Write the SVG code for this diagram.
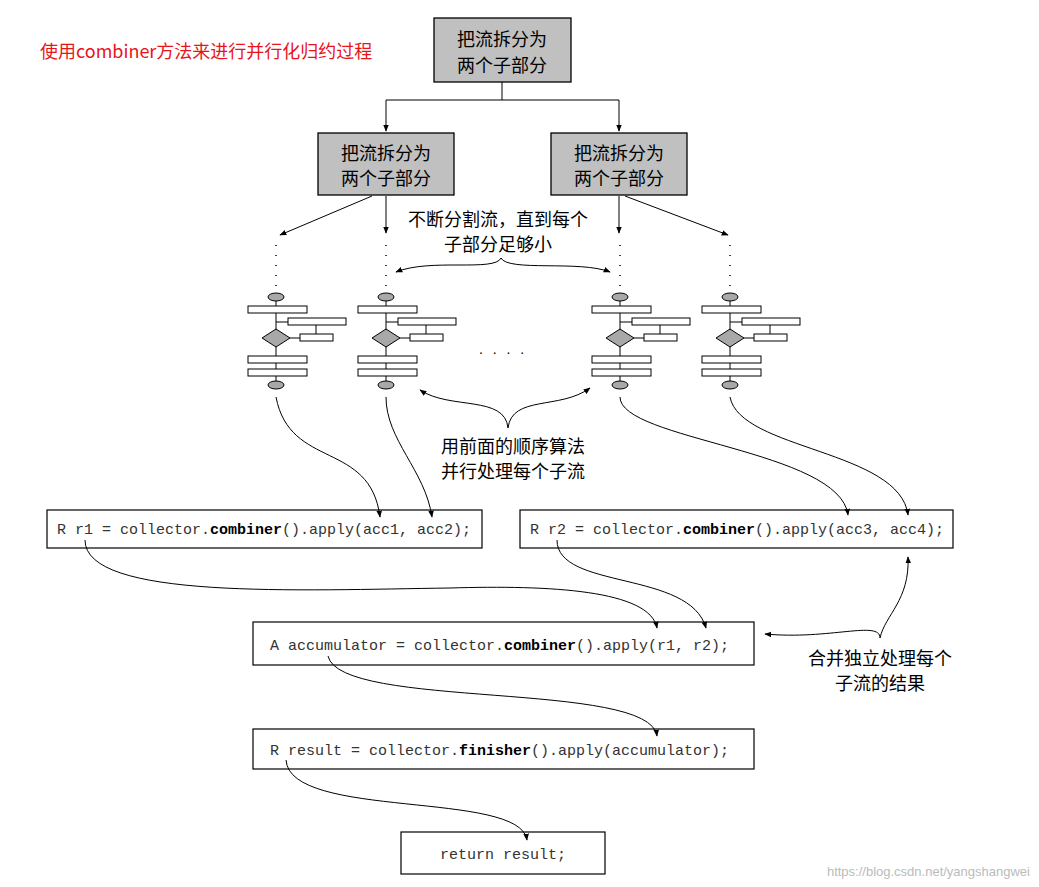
<svg xmlns="http://www.w3.org/2000/svg" width="1039" height="887" viewBox="0 0 1039 887">
<defs>
<style>
.bx{fill:#c0c0c0;stroke:#000;stroke-width:1.3}
.cb{fill:#fff;stroke:#000;stroke-width:1.2}
.t{font-family:"Noto Sans CJK SC",sans-serif;font-size:18px;fill:#000}
.c{font-family:"Liberation Mono",monospace;font-size:15px;fill:#333}
.ln{fill:none;stroke:#000;stroke-width:1}
.w{fill:#fff;stroke:#000;stroke-width:1}
.g{fill:#a8a8a8;stroke:#000;stroke-width:1}
.d{stroke:#000;stroke-width:1.5;stroke-dasharray:1 9;fill:none}
</style>
<marker id="a" viewBox="0 0 10 10" refX="9" refY="5" markerWidth="7" markerHeight="7" orient="auto-start-reverse"><path d="M0,1 L10,5 L0,9 z" fill="#000"/></marker>
<g id="fc">
<line class="ln" x1="0" y1="297" x2="0" y2="385"/>
<line class="ln" x1="0" y1="322" x2="12" y2="322"/>
<line class="ln" x1="14" y1="338" x2="24" y2="338"/>
<line class="ln" x1="40" y1="325" x2="40" y2="334"/>
<ellipse class="g" cx="0" cy="297" rx="8" ry="4"/>
<rect class="w" x="-28" y="306" width="59" height="7"/>
<rect class="w" x="12" y="318" width="58" height="7"/>
<path class="g" d="M0,329 L14,338 L0,347 L-14,338 Z"/>
<rect class="w" x="24" y="334" width="33" height="7"/>
<rect class="w" x="-28" y="356" width="59" height="7"/>
<rect class="w" x="-28" y="369" width="59" height="7"/>
<ellipse class="g" cx="0" cy="385" rx="8" ry="4"/>
</g>
</defs>
<rect width="1039" height="887" fill="#fff"/>
<text x="40" y="58" font-family="Noto Sans CJK SC,sans-serif" font-size="18" fill="#e8141c">使用combiner方法来进行并行化归约过程</text>

<g id="n0"><rect class="bx" x="434" y="18" width="137" height="64"/><text class="t" x="502" y="46" text-anchor="middle" font-size="19">把流拆分为</text><text class="t" x="502" y="72" text-anchor="middle" font-size="19">两个子部分</text></g>
<g id="n1"><rect class="bx" x="318" y="133" width="136" height="62"/><text class="t" x="386" y="160" text-anchor="middle" font-size="19">把流拆分为</text><text class="t" x="386" y="185" text-anchor="middle" font-size="19">两个子部分</text></g>
<g id="n2"><rect class="bx" x="551" y="133" width="136" height="62"/><text class="t" x="619" y="160" text-anchor="middle" font-size="19">把流拆分为</text><text class="t" x="619" y="185" text-anchor="middle" font-size="19">两个子部分</text></g>

<g id="icons">
<use href="#fc" x="276"/><use href="#fc" x="386"/><use href="#fc" x="620"/><use href="#fc" x="730"/>
<line class="d" x1="276" y1="245" x2="276" y2="290"/><line class="d" x1="386" y1="245" x2="386" y2="290"/>
<line class="d" x1="620" y1="245" x2="620" y2="290"/><line class="d" x1="730" y1="245" x2="730" y2="290"/>
<text x="503" y="354" font-family="Liberation Sans,sans-serif" font-size="14" text-anchor="middle" letter-spacing="3">. . . .</text>
</g>

<g id="labels" class="t">
<text x="498" y="226" text-anchor="middle">不断分割流，直到每个</text>
<text x="498" y="251" text-anchor="middle">子部分足够小</text>
<text x="513" y="453" text-anchor="middle">用前面的顺序算法</text>
<text x="513" y="478" text-anchor="middle">并行处理每个子流</text>
<text x="880" y="665" text-anchor="middle">合并独立处理每个</text>
<text x="880" y="690" text-anchor="middle">子流的结果</text>
</g>

<g id="code">
<rect class="cb" x="47" y="510" width="435" height="38"/>
<text class="c" x="57" y="534" xml:space="preserve">R r1 = collector.<tspan font-weight="bold" fill="#000">combiner</tspan>().apply(acc1, acc2);</text>
<rect class="cb" x="520" y="510" width="433" height="38"/>
<text class="c" x="530" y="534" xml:space="preserve">R r2 = collector.<tspan font-weight="bold" fill="#000">combiner</tspan>().apply(acc3, acc4);</text>
<rect class="cb" x="253" y="622" width="501" height="43"/>
<text class="c" x="270" y="650" xml:space="preserve">A accumulator = collector.<tspan font-weight="bold" fill="#000">combiner</tspan>().apply(r1, r2);</text>
<rect class="cb" x="253" y="729" width="501" height="40"/>
<text class="c" x="270" y="755" xml:space="preserve">R result = collector.<tspan font-weight="bold" fill="#000">finisher</tspan>().apply(accumulator);</text>
<rect class="cb" x="401" y="832" width="204" height="42"/>
<text class="c" x="503" y="859" text-anchor="middle">return result;</text>
</g>

<g id="connectors" class="ln">
<path d="M502,82 V100 M386,100 H619"/>
<path d="M386,100 V131" marker-end="url(#a)"/>
<path d="M619,100 V131" marker-end="url(#a)"/>
<path d="M372,196 L280,235" marker-end="url(#a)"/>
<path d="M386,196 V233" marker-end="url(#a)"/>
<path d="M619,196 V233" marker-end="url(#a)"/>
<path d="M625,196 L728,235" marker-end="url(#a)"/>
<path d="M396,272 C430,258 495,272 501,258 C508,272 580,260 610,272" marker-start="url(#a)" marker-end="url(#a)"/>
<path d="M420,390 C450,410 505,395 508,428 C512,395 560,410 590,388" marker-start="url(#a)" marker-end="url(#a)"/>
<path d="M276,397 C290,470 370,440 380,517" marker-end="url(#a)"/>
<path d="M386,397 C386,440 425,470 432,517" marker-end="url(#a)"/>
<path d="M620,397 C620,440 840,450 848,515" marker-end="url(#a)"/>
<path d="M730,397 C740,450 900,450 908,515" marker-end="url(#a)"/>
<path d="M85,540 C85,600 300,590 450,588 C550,585 650,590 657,628" marker-end="url(#a)"/>
<path d="M557,540 C557,590 690,570 706,628" marker-end="url(#a)"/>
<path d="M880,638 C880,620 830,640 765,634" marker-end="url(#a)"/>
<path d="M880,638 C885,615 910,600 908,557" marker-end="url(#a)"/>
<path d="M328,656 C340,710 650,680 657,736" marker-end="url(#a)"/>
<path d="M286,760 C290,820 520,790 527,840" marker-end="url(#a)"/>
</g>
<text x="1030" y="876" font-family="Liberation Sans,sans-serif" font-size="13" fill="#bbb" text-anchor="end">https://blog.csdn.net/yangshangwei</text>
</svg>
